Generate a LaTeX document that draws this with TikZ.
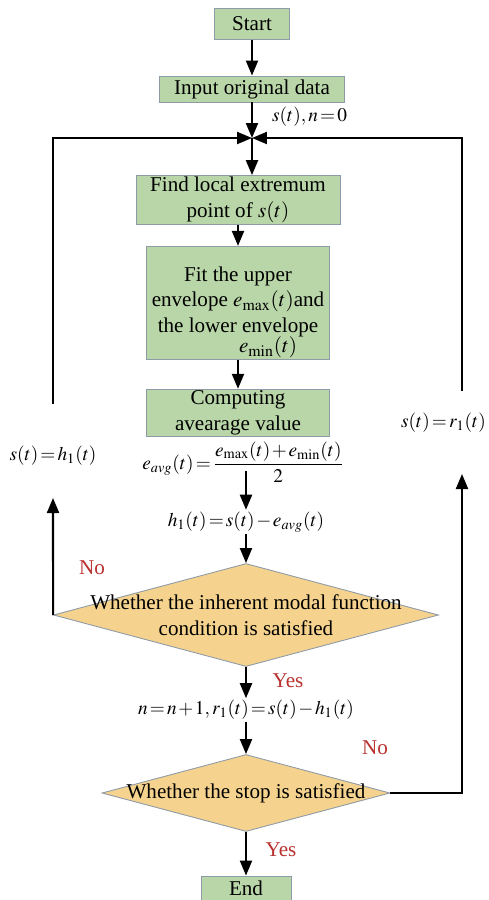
\documentclass[tikz,border=0pt]{standalone}
\usepackage{amsmath}
\usepackage{mathptmx}
\usepackage[no-math]{fontspec}
\setmainfont{Liberation Serif}
\usetikzlibrary{arrows.meta,positioning,shapes.geometric}
\definecolor{cgreen}{HTML}{B9D6A8}
\definecolor{cyellow}{HTML}{F5D38E}
\definecolor{cred}{HTML}{B8312F}
\definecolor{cedge}{HTML}{8E9AA6}
\thickmuskip=2mu
\medmuskip=1.5mu

\begin{document}
\begin{tikzpicture}[x=0.02cm,y=-0.02cm,
  font=\fontsize{12}{14.5}\selectfont,
  box/.style={draw=cedge,line width=0.5pt,fill=cgreen,align=center,inner sep=1pt},
  dec/.style={diamond,draw=cedge,line width=0.5pt,fill=cyellow,inner sep=0pt},
  mth/.style={font=\fontsize{11}{13}\selectfont,inner sep=1pt},
  arr/.style={-{Triangle[length=0.3cm,width=0.24cm]},line width=1.2pt},
  yn/.style={text=cred}]
  \useasboundingbox (0,0) rectangle (489,900);
  % main column
  \node[box,minimum width=1.5cm,minimum height=0.62cm] (start) at (252,24) {Start};
  \node[box,minimum width=3.7cm,minimum height=0.52cm] (input) at (252,89) {Input original data};
  \node[mth,anchor=west] (s0) at (270,117) {$s(t),n=0$};
  \coordinate (junc) at (252,138);
  \node[box,minimum width=4.08cm,minimum height=0.96cm] (find) at (238,200)
    {Find local extremum\\point of $s(t)$};
  \node[box,minimum width=3.66cm,minimum height=2.14cm] (fit) at (238,303)
    {\rule{0pt}{19pt}Fit the upper\\envelope $e_{\max}(t)$and\\the lower envelope\\[-3pt]\hspace*{1.2cm}$e_{\min}(t)$};
  \node[box,minimum width=3.66cm,minimum height=0.94cm] (comp) at (238,413)
    {Computing\\avearage value};
  \node[mth] (eavg) at (243,462) {$\displaystyle e_{avg}(t)=\frac{e_{\max}(t)+e_{\min}(t)}{2}$};
  \coordinate (fbar) at (246,471);
  \node[mth] (h1) at (246,522) {$h_{1}(t)=s(t)-e_{avg}(t)$};
  \node[dec,minimum width=7.7cm,minimum height=2.06cm] (cond) at (246,615) {};
  \node[align=center] (condtxt) at (cond) {Whether the inherent modal function\\condition is satisfied};
  \node[mth] (r1) at (246,710) {$n=n+1,r_{1}(t)=s(t)-h_{1}(t)$};
  \node[dec,minimum width=5.76cm,minimum height=1.54cm] (stop) at (246,793) {};
  \node (stoptxt) at (stop) {Whether the stop is satisfied};
  \node[box,minimum width=1.8cm,minimum height=0.48cm] (end) at (246,888) {End};
  % side loops
  \node[mth] (sh) at (53,456) {$s(t)=h_{1}(t)$};
  \node[mth,anchor=east] (sr) at (488,423) {$s(t)=r_{1}(t)$};
  \coordinate (ltop) at (53,404);
  \coordinate (lbot) at (53,498);
  \coordinate (rtop) at (462,391);
  \coordinate (rbot) at (462,474);
  \node[yn] (no1) at (92,568) {No};
  \node[yn] (yes1) at (288,681) {Yes};
  \node[yn] (no2) at (375,748) {No};
  \node[yn] (yes2) at (281,850) {Yes};
  \draw[arr] (start) -- (input);
  \draw[arr] (input) -- (junc);
  \draw[arr] (junc) -- (junc |- find.north);
  \draw[arr] (find) -- (fit);
  \draw[arr] (fit) -- (comp);
  \draw[arr] (fbar) -- (h1);
  \draw[arr] (h1) -- (cond);
  \draw[arr] (cond) -- (r1);
  \draw[arr] (r1) -- (stop);
  \draw[arr] (stop) -- (end);
  \draw[arr] (cond.west) -- (lbot);
  \draw[arr] (ltop) |- (junc);
  \draw[arr] (stop.east) -| (rbot);
  \draw[arr] (rtop) |- (junc);
\end{tikzpicture}
\end{document}
